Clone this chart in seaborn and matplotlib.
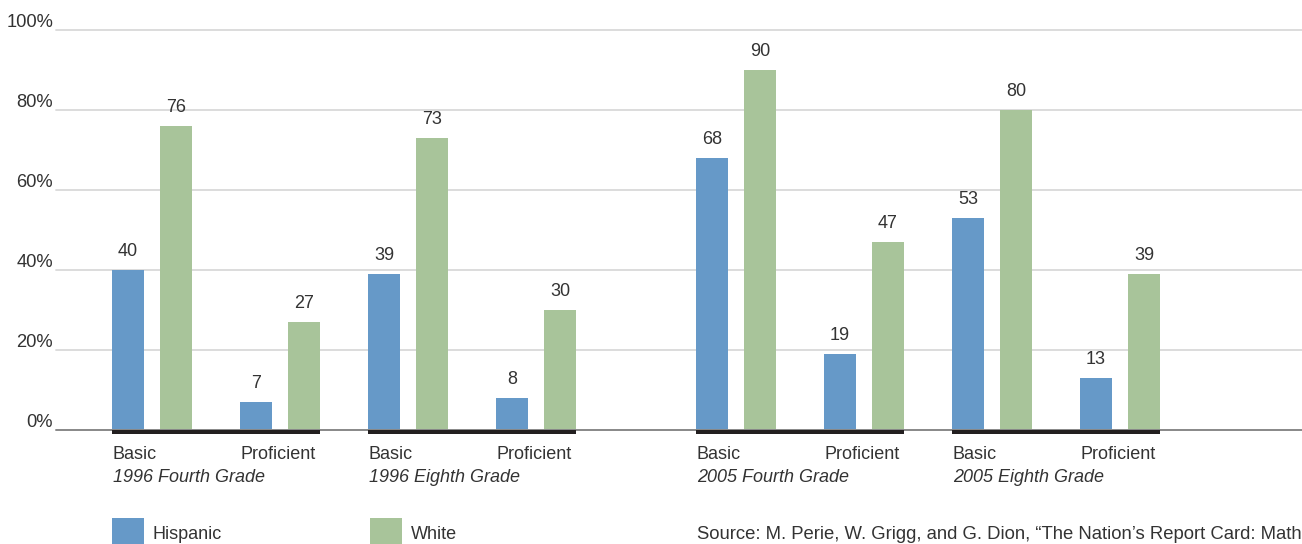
import numpy as np
import pandas as pd
import seaborn as sns
import matplotlib
matplotlib.use("Agg")
import matplotlib.pyplot as plt
from matplotlib.patches import Rectangle

# ---- data -------------------------------------------------------------
grades = ["1996 Fourth Grade", "1996 Eighth Grade",
          "2005 Fourth Grade", "2005 Eighth Grade"]
levels = ["Basic", "Proficient"]
groups = ["Hispanic", "White"]
hispanic = [40, 7, 39, 8, 68, 19, 53, 13]
white = [76, 27, 73, 30, 90, 47, 80, 39]
y_ticks = [0, 20, 40, 60, 80, 100]
source_text = ("Source: M. Perie, W. Grigg, and G. Dion, \u201cThe Nation\u2019s Report Card: "
               "Mathematics 2005\u201d (Washington, DC: National Center for Education Statistics, 2005)")

colors = {"Hispanic": "#6699c8", "White": "#a8c49a"}
text_color = "#333333"

# ---- layout of the category slots -------------------------------------
era_gap = 0.5625          # extra space between the 1996 and 2005 blocks
slots = []
for g in range(len(grades)):
    for l in range(len(levels)):
        slots.append(g * 2 + l + (era_gap if g >= 2 else 0.0))

rows = []
for i, pos in enumerate(slots):
    rows.append({"x": pos, "group": "Hispanic", "value": hispanic[i]})
    rows.append({"x": pos, "group": "White", "value": white[i]})
df = pd.DataFrame(rows)

# ---- figure -----------------------------------------------------------
sns.set_style("white")
plt.rcParams["font.family"] = ["Liberation Sans", "DejaVu Sans"]

W, H = 1302, 544
fig = plt.figure(figsize=(W / 100, H / 100), dpi=100)
ax = fig.add_axes([56 / W, (H - 430) / H, 1 - 56 / W, 400 / H])

sns.barplot(data=df, x="x", y="value", hue="group", hue_order=groups,
            palette=colors, native_scale=True, width=0.75, gap=1 / 3,
            saturation=1, errorbar=None, legend=False, ax=ax, zorder=3,
            linewidth=0, edgecolor="none")

ax.set_xlim(-0.75, (W - 152) / 128)
ax.set_ylim(0, 100)
ax.set_xticks([])
ax.set_yticks([])
ax.set_xlabel("")
ax.set_ylabel("")
for s in ax.spines.values():
    s.set_visible(False)

# gridlines and zero line
for v in y_ticks[1:]:
    ax.axhline(v, color="#d9d9d9", lw=1.3, zorder=1, clip_on=False)
ax.axhline(0, color="#888888", lw=1.4, zorder=4, clip_on=False)

# y tick labels sitting just above each gridline
for v in y_ticks:
    ax.annotate(f"{v}%", xy=(0, v), xycoords=("axes fraction", "data"),
                xytext=(-3, 3), textcoords="offset pixels",
                ha="right", va="baseline", fontsize=13.2, color=text_color)

# value labels
for cont in ax.containers:
    ax.bar_label(cont, fmt="%g", padding=7.5, fontsize=13, color=text_color)

hisp_bars = ax.containers[0]
white_bars = ax.containers[1]

# black base under each grade block plus level / grade labels
for g, grade in enumerate(grades):
    left = hisp_bars[2 * g].get_x()
    right = white_bars[2 * g + 1].get_x() + white_bars[2 * g + 1].get_width()
    ax.add_patch(Rectangle((left, -1.1), right - left, 1.1,
                           facecolor="#231f20", edgecolor="none",
                           clip_on=False, zorder=5))
    for l, lev in enumerate(levels):
        bx = hisp_bars[2 * g + l].get_x()
        ax.annotate(lev, xy=(bx, 0), xytext=(1, -29), textcoords="offset pixels",
                    ha="left", va="baseline", fontsize=13, color=text_color)
    ax.annotate(grade, xy=(left, 0), xytext=(1, -52), textcoords="offset pixels",
                ha="left", va="baseline", fontsize=13, style="italic",
                color=text_color)

# legend row
legend_x = [112, 370]
for name, lx in zip(groups, legend_x):
    fig.add_artist(Rectangle((lx / W, (H - 550) / H), 32 / W, 32 / H,
                             transform=fig.transFigure,
                             facecolor=colors[name], edgecolor="none"))
    fig.text((lx + 41) / W, (H - 539) / H, name, ha="left", va="baseline",
             fontsize=13, color=text_color)
fig.text(697 / W, (H - 539) / H, source_text, ha="left", va="baseline",
         fontsize=13.3, color=text_color)

fig.savefig("out.png", dpi=100)
